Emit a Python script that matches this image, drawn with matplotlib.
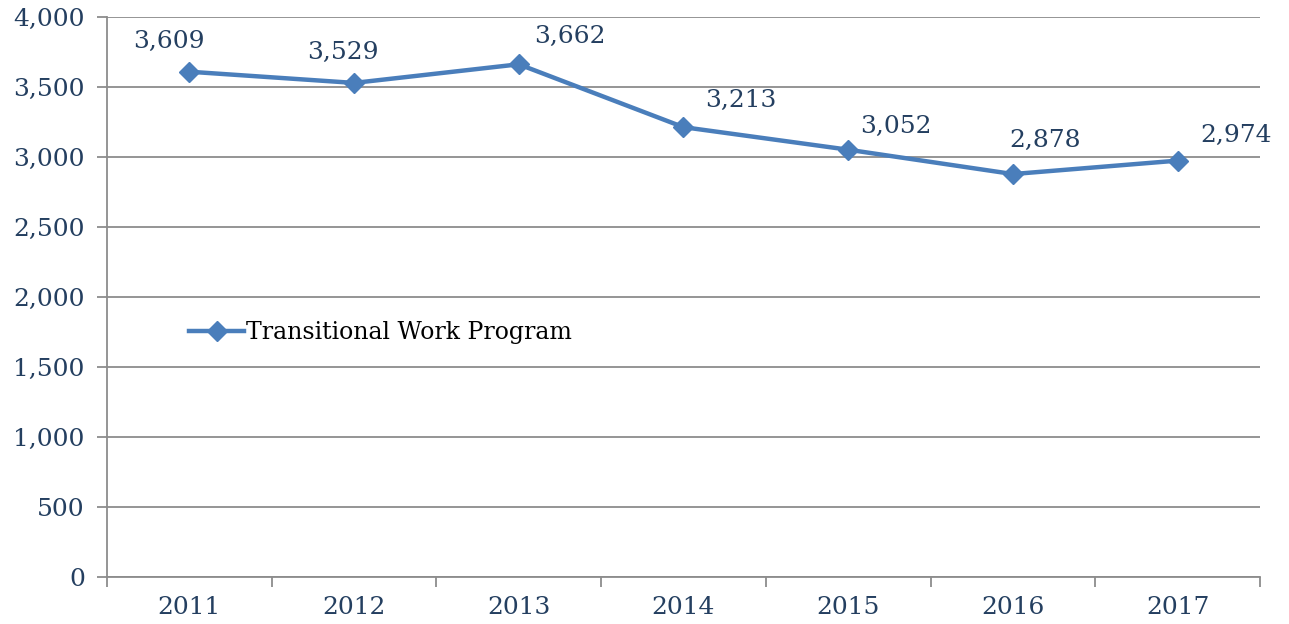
import matplotlib.pyplot as plt
from matplotlib.ticker import FuncFormatter, FixedLocator

# Datos del gráfico
anios = ['2011', '2012', '2013', '2014', '2015', '2016', '2017']
valores = [3609, 3529, 3662, 3213, 3052, 2878, 2974]
serie = 'Transitional Work Program'

# Desplazamiento de cada etiqueta (puntos tipográficos)
desp_x = [-15, -8, 37, 41, 34, 23, 42]
desp_y = [22, 22, 20, 19, 17, 24, 18]

plt.rcParams['font.family'] = ['DejaVu Serif']

texto = '#243f60'
linea = '#4a7ebb'
gris = '#8c8c8c'

fig = plt.figure(figsize=(12.89, 6.24), dpi=100)
ax = fig.add_axes([0.083, 0.0753, 0.8945, 0.8975])

x = list(range(len(anios)))
ax.plot(x, valores, color=linea, linewidth=3.2, marker='D', markersize=10,
        label=serie, zorder=3)

# Etiquetas de datos
for xi, v, dx, dy in zip(x, valores, desp_x, desp_y):
    ax.annotate(f'{v:,}', (xi, v), xytext=(dx, dy), textcoords='offset points',
                ha='center', va='center', fontsize=18, color=texto)

ax.set_xlim(-0.5, len(anios) - 0.5)
ax.set_ylim(0, 4000)
ax.set_yticks(range(0, 4001, 500))
ax.yaxis.set_major_formatter(FuncFormatter(lambda v, p: f'{int(v):,}'))
ax.grid(axis='y', color=gris, linewidth=1.3)
ax.set_axisbelow(True)

# Marcas del eje x entre categorías
ax.set_xticks(x)
ax.set_xticklabels(anios)
ax.xaxis.set_minor_locator(FixedLocator([i - 0.5 for i in range(len(anios) + 1)]))
ax.tick_params(axis='x', which='major', length=0, pad=14, labelsize=18, labelcolor=texto)
ax.tick_params(axis='x', which='minor', length=7, width=1.3, color=gris, direction='out')
ax.tick_params(axis='y', length=7, width=1.3, color=gris, labelsize=18,
               labelcolor=texto, pad=9)

for lado in ['top', 'right']:
    ax.spines[lado].set_visible(False)
for lado in ['left', 'bottom']:
    ax.spines[lado].set_color(gris)
    ax.spines[lado].set_linewidth(1.3)

leg = ax.legend(loc='center left', bbox_to_anchor=(0.0715, 0.437), frameon=False,
                fontsize=17, handlelength=2.3, handletextpad=0.1, borderaxespad=0,
                borderpad=0)

plt.savefig('out.png', dpi=100)
